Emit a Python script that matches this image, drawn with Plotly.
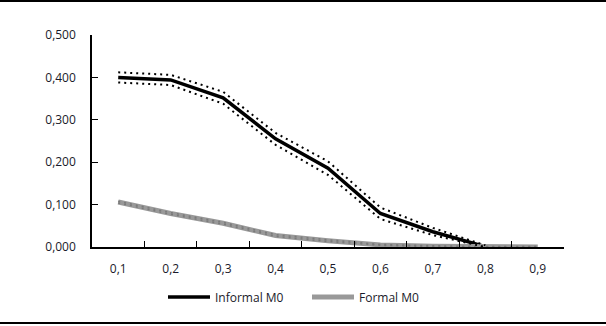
import plotly.graph_objects as go

categories = ["0,1", "0,2", "0,3", "0,4", "0,5", "0,6", "0,7", "0,8", "0,9"]
informal_m0 = [0.400, 0.394, 0.352, 0.255, 0.186, 0.079, 0.036, 0.001, None]
informal_upper = [0.412, 0.406, 0.366, 0.269, 0.202, 0.093, 0.045, 0.004, None]
informal_lower = [0.388, 0.382, 0.338, 0.241, 0.170, 0.066, 0.028, 0.000, None]
formal_m0 = [0.106, 0.079, 0.056, 0.027, 0.015, 0.005, 0.002, 0.000, 0.000]
formal_upper = [0.108, 0.081, 0.058, 0.029, 0.017, 0.006, 0.003, 0.001, 0.001]
formal_lower = [0.104, 0.077, 0.054, 0.025, 0.013, 0.004, 0.001, 0.000, 0.000]
y_ticks = [0.0, 0.1, 0.2, 0.3, 0.4, 0.5]

fig = go.Figure()
fig.add_trace(go.Scatter(x=categories, y=informal_m0, mode="lines", name="Informal M0",
                         line=dict(color="#000000", width=3.5)))
fig.add_trace(go.Scatter(x=categories, y=formal_m0, mode="lines", name="Formal M0",
                         line=dict(color="#999999", width=5)))
fig.add_trace(go.Scatter(x=categories, y=formal_upper, mode="lines", showlegend=False,
                         line=dict(color="#7a7a7a", width=1.5, dash="2px,4px")))
fig.add_trace(go.Scatter(x=categories, y=formal_lower, mode="lines", showlegend=False,
                         line=dict(color="#7a7a7a", width=1.5, dash="2px,4px")))
fig.add_trace(go.Scatter(x=categories, y=informal_upper, mode="lines", showlegend=False,
                         line=dict(color="#000000", width=2, dash="2px,4px")))
fig.add_trace(go.Scatter(x=categories, y=informal_lower, mode="lines", showlegend=False,
                         line=dict(color="#000000", width=2, dash="2px,4px")))

L, R, T, B = 92, 42, 35, 79
W, H = 606, 326
pw, ph = W - L - R, H - T - B
base = H - B  # pixel y of plot bottom

fig.update_layout(
    width=W, height=H,
    margin=dict(l=L, r=R, t=T, b=B, autoexpand=False),
    paper_bgcolor="white", plot_bgcolor="white",
    separators=",.",
    font=dict(family="Open Sans", size=12, color="#1a1a2a"),
    showlegend=True,
    legend=dict(orientation="h", x=(163 - L) / pw, xanchor="left",
                y=-(297 - base) / ph, yanchor="middle",
                font=dict(size=12), itemwidth=42, traceorder="normal",
                entrywidth=87, entrywidthmode="pixels"),
    xaxis=dict(type="category", range=[-0.5, 8.5], tickson="boundaries", ticks="inside", ticklen=6,
               tickcolor="black", showline=True, linecolor="black", linewidth=1.5,
               showgrid=False, zeroline=False, ticklabelstandoff=10),
    yaxis=dict(range=[0, 0.5], tickvals=y_ticks, tickformat=".3f", ticks="inside",
               ticklen=6, tickcolor="black", showline=True, linecolor="black",
               linewidth=1.5, showgrid=False, zeroline=False, ticklabelstandoff=12),
    shapes=[
        dict(type="line", xref="paper", yref="paper", x0=-L / pw, x1=(W - L) / pw,
             y0=(base - 1) / ph, y1=(base - 1) / ph, line=dict(color="black", width=2)),
        dict(type="line", xref="paper", yref="paper", x0=-L / pw, x1=(W - L) / pw,
             y0=-(323 - base) / ph, y1=-(323 - base) / ph, line=dict(color="black", width=2)),
    ],
)

fig.write_html("out.html", config={"displayModeBar": False},
               post_script="document.body.style.margin='0';")
